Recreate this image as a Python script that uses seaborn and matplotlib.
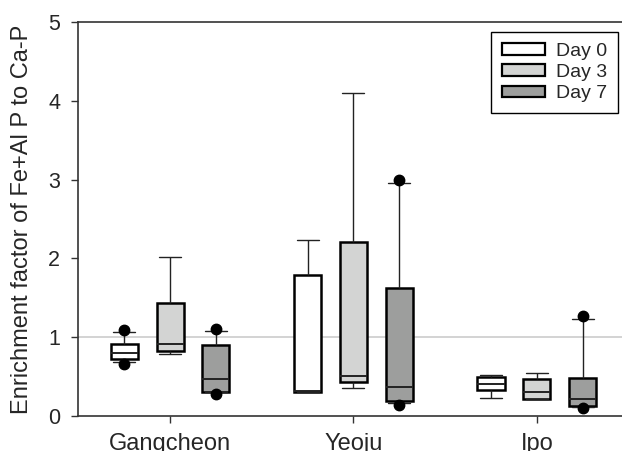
import matplotlib.pyplot as plt
import pandas as pd
import seaborn as sns

sites = ["Gangcheon", "Yeoju", "Ipo"]
days = ["Day 0", "Day 3", "Day 7"]

# summary values, order: site x day
# (Gangcheon D0, D3, D7, Yeoju D0, D3, D7, Ipo D0, D3, D7)
low_dot = [0.66, 0.79, 0.28, 0.30, 0.35, 0.14, 0.23, 0.21, 0.10]
whisker_low = [0.68, 0.79, 0.30, 0.30, 0.35, 0.16, 0.23, 0.21, 0.12]
q1 = [0.72, 0.83, 0.31, 0.31, 0.435, 0.19, 0.33, 0.21, 0.13]
median = [0.80, 0.91, 0.47, 0.32, 0.51, 0.37, 0.41, 0.30, 0.22]
q3 = [0.92, 1.44, 0.90, 1.79, 2.21, 1.62, 0.50, 0.47, 0.48]
whisker_high = [1.07, 2.02, 1.08, 2.23, 4.10, 2.96, 0.52, 0.54, 1.23]
high_dot = [1.09, 2.02, 1.11, 2.23, 4.10, 3.00, 0.52, 0.54, 1.27]

ref_level = 1

rows = []
i = 0
for site in sites:
    for day in days:
        # 9 samples so that quartiles / whiskers / outliers land on the read values
        vals = [low_dot[i], whisker_low[i], q1[i], q1[i], median[i],
                q3[i], q3[i], whisker_high[i], high_dot[i]]
        for v in vals:
            rows.append({"site": site, "day": day, "value": v})
        i += 1
df = pd.DataFrame(rows)

sns.set_style("white")
plt.rcParams['font.family'] = ['Liberation Sans', 'DejaVu Sans']

fig = plt.figure(figsize=(6.22, 4.51), dpi=100)
ax = fig.add_axes([0.126, 0.0776, 0.8845, 0.8736])

ax.axhline(ref_level, color="#c8c8c8", lw=1.1, zorder=0)

sns.boxplot(data=df, x="site", y="value", hue="day", order=sites, hue_order=days,
            palette=["white", "#d3d4d3", "#9d9e9d"], saturation=1,
            width=0.75, gap=0.41, whis=(10, 90), linecolor="black", linewidth=1.8,
            whiskerprops=dict(color="#222222", linewidth=1.0),
            capprops=dict(color="#222222", linewidth=1.0),
            medianprops=dict(color="#222222", linewidth=1.4),
            flierprops=dict(marker="o", markerfacecolor="black", markeredgecolor="black",
                            markersize=7.5),
            capwidths=0.12, ax=ax)

ax.set_xlim(-0.5, 2.5)
ax.set_ylim(0, 5)
ax.set_yticks([0, 1, 2, 3, 4, 5])
ax.set_xlabel("")
ax.set_ylabel("Enrichment factor of Fe+Al P to Ca-P", fontsize=17, labelpad=11)
ax.tick_params(axis="y", labelsize=15.5, direction="out", length=5, width=1, color="#333333",
               left=True, pad=8)
ax.tick_params(axis="x", labelsize=17, direction="out", length=5, width=1, color="#333333",
               bottom=True, pad=7)
for s in ax.spines.values():
    s.set_color("#333333")
    s.set_linewidth(1.2)

handles, labels = ax.get_legend_handles_labels()
leg = ax.legend(handles, labels, loc="upper right", bbox_to_anchor=(618 / 622, 1 - 32 / 451),
                bbox_transform=fig.transFigure, borderaxespad=0, fontsize=14,
                frameon=True, fancybox=False, edgecolor="black", framealpha=1,
                handlelength=2.2, handleheight=0.55, labelspacing=0.22, handletextpad=0.6,
                borderpad=0.55)
leg.get_frame().set_linewidth(1.0)
for h in leg.legend_handles:
    h.set_edgecolor("black")
    h.set_linewidth(1.6)

fig.savefig("out.png", dpi=100)
